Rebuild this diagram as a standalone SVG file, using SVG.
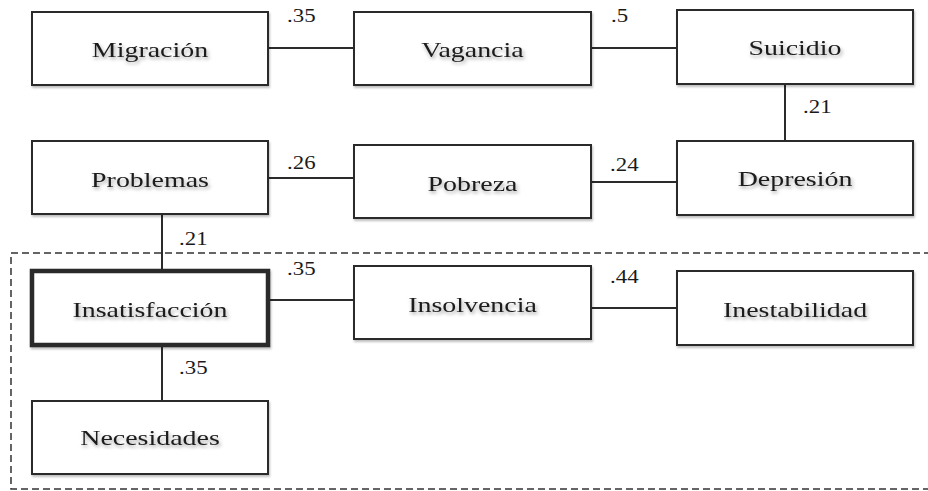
<svg xmlns="http://www.w3.org/2000/svg" width="928" height="491" viewBox="0 0 928 491">
<defs>
<filter id="ts" x="-10%" y="-30%" width="120%" height="170%">
<feDropShadow dx="1" dy="2.5" stdDeviation="1.6" flood-color="#000" flood-opacity="0.35"/>
</filter>
<filter id="bs" x="-5%" y="-10%" width="110%" height="125%">
<feDropShadow dx="1" dy="2" stdDeviation="1.2" flood-color="#000" flood-opacity="0.25"/>
</filter>
</defs>
<style>
.box{fill:#fff;stroke:#2b2b2b;stroke-width:2;filter:url(#bs)}
.thick{stroke-width:4.5}
.lbl{font-size:22px;fill:#1a1a1a;text-anchor:middle;filter:url(#ts)}
.num{font-size:18px;fill:#1a1a1a}
.ln{stroke:#2b2b2b;stroke-width:2;fill:none}
.dash{stroke:#333;stroke-width:1.5;fill:none;stroke-dasharray:7 4}
</style>
<rect class="dash" x="11" y="253" width="930" height="236"/>
<g id="connectors" font-family="'Liberation Serif', 'DejaVu Serif', serif">
<line class="ln" x1="268" y1="48" x2="354" y2="48"/>
<line class="ln" x1="591" y1="48" x2="677" y2="48"/>
<line class="ln" x1="785" y1="84" x2="785" y2="141"/>
<line class="ln" x1="268" y1="178" x2="354" y2="178"/>
<line class="ln" x1="591" y1="182" x2="677" y2="182"/>
<line class="ln" x1="162" y1="214" x2="162" y2="271"/>
<line class="ln" x1="268" y1="300" x2="354" y2="300"/>
<line class="ln" x1="591" y1="308" x2="677" y2="308"/>
<line class="ln" x1="162" y1="345" x2="162" y2="401"/>
<text class="num" transform="translate(287 22) scale(1.27 1)">.35</text>
<text class="num" transform="translate(611 22) scale(1.27 1)">.5</text>
<text class="num" transform="translate(803 113) scale(1.27 1)">.21</text>
<text class="num" transform="translate(287 169) scale(1.27 1)">.26</text>
<text class="num" transform="translate(610 171) scale(1.27 1)">.24</text>
<text class="num" transform="translate(179 245) scale(1.27 1)">.21</text>
<text class="num" transform="translate(287 275) scale(1.27 1)">.35</text>
<text class="num" transform="translate(610 283) scale(1.27 1)">.44</text>
<text class="num" transform="translate(179 374) scale(1.27 1)">.35</text>
</g>
<g id="nodes" font-family="'Liberation Serif', 'DejaVu Serif', serif">
<g id="migracion"><rect class="box" x="32" y="12" width="236" height="73"/><text class="lbl" transform="translate(150 57) scale(1.27 1)">Migración</text></g>
<g id="vagancia"><rect class="box" x="354" y="12" width="237" height="73"/><text class="lbl" transform="translate(472.5 57) scale(1.27 1)">Vagancia</text></g>
<g id="suicidio"><rect class="box" x="677" y="10" width="236" height="74"/><text class="lbl" transform="translate(795 55) scale(1.27 1)">Suicidio</text></g>
<g id="depresion"><rect class="box" x="677" y="141" width="236" height="74"/><text class="lbl" transform="translate(795 186) scale(1.27 1)">Depresión</text></g>
<g id="problemas"><rect class="box" x="32" y="141" width="236" height="73"/><text class="lbl" transform="translate(150 187) scale(1.27 1)">Problemas</text></g>
<g id="pobreza"><rect class="box" x="354" y="145" width="237" height="73"/><text class="lbl" transform="translate(472.5 191) scale(1.27 1)">Pobreza</text></g>
<g id="insatisfaccion"><rect class="box thick" x="32" y="271" width="236" height="74"/><text class="lbl" transform="translate(150 317) scale(1.27 1)">Insatisfacción</text></g>
<g id="insolvencia"><rect class="box" x="354" y="266" width="237" height="73"/><text class="lbl" transform="translate(472.5 312) scale(1.27 1)">Insolvencia</text></g>
<g id="inestabilidad"><rect class="box" x="677" y="271" width="236" height="74"/><text class="lbl" transform="translate(795 317) scale(1.27 1)">Inestabilidad</text></g>
<g id="necesidades"><rect class="box" x="32" y="401" width="236" height="73"/><text class="lbl" transform="translate(150 445) scale(1.27 1)">Necesidades</text></g>
</g>
</svg>
